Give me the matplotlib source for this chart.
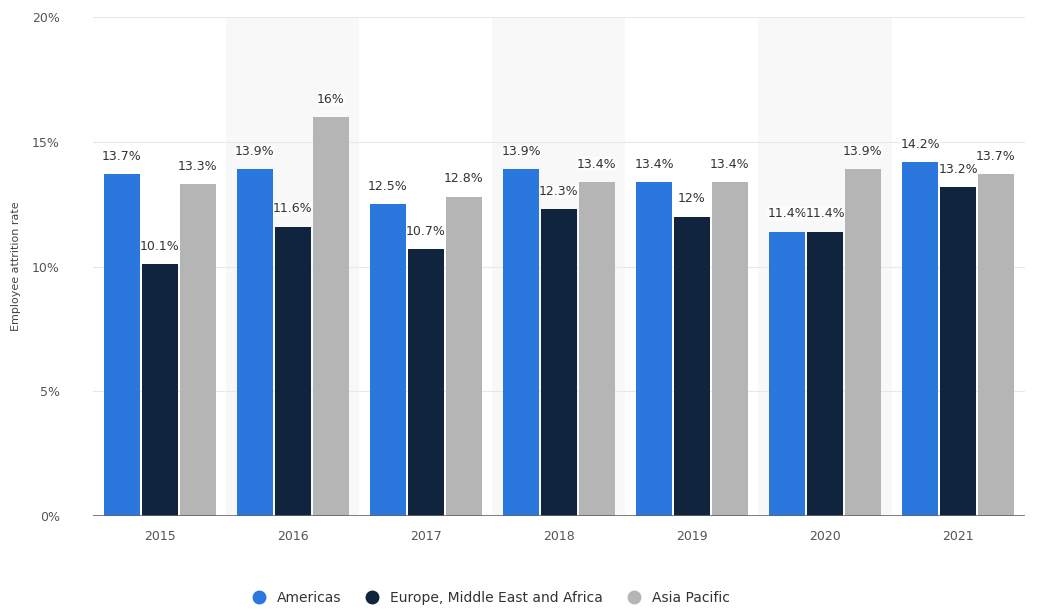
import numpy as np
import matplotlib.pyplot as plt
from matplotlib.lines import Line2D

years = ['2015', '2016', '2017', '2018', '2019', '2020', '2021']
americas = [13.7, 13.9, 12.5, 13.9, 13.4, 11.4, 14.2]
emea = [10.1, 11.6, 10.7, 12.3, 12.0, 11.4, 13.2]
apac = [13.3, 16.0, 12.8, 13.4, 13.4, 13.9, 13.7]
series_names = ['Americas', 'Europe, Middle East and Africa', 'Asia Pacific']
colors = ['#2a77dd', '#10243e', '#b5b5b5']

fig = plt.figure(figsize=(10.37, 6.10), dpi=100)
ax = fig.add_axes([0.09, 0.154, 0.898, 0.818])

x = np.arange(len(years))
width = 0.27
step = 0.285

# alternate background bands
for i in range(1, len(years), 2):
    ax.axvspan(i - 0.5, i + 0.5, color='#f8f8f8', zorder=0, lw=0)

ax.set_yticks([0, 5, 10, 15, 20])
ax.set_yticklabels(['0%', '5%', '10%', '15%', '20%'])
ax.grid(axis='y', color='#e8e8e8', lw=0.8, zorder=1)

for k, vals in enumerate([americas, emea, apac]):
    xs = x + (k - 1) * step
    ax.bar(xs, vals, width, color=colors[k], zorder=2)
    for xi, v in zip(xs, vals):
        txt = f'{v:g}%'
        ax.text(xi, v + 0.45, txt, ha='center', va='bottom', fontsize=9,
                color='#333333', zorder=3,
                bbox=dict(facecolor='white', edgecolor='none', pad=0.3, alpha=0.6))

ax.set_xlim(-0.5, len(years) - 0.5)
ax.set_ylim(0, 20)
ax.set_xticks(x)
ax.set_xticklabels(years)
ax.axhline(0, color='#666666', lw=1.2, zorder=3)

for s in ax.spines.values():
    s.set_visible(False)
ax.tick_params(axis='both', length=0, colors='#555555', labelsize=9)
ax.tick_params(axis='x', pad=10)
ax.tick_params(axis='y', pad=24)
ax.set_ylabel('Employee attrition rate', fontsize=8, color='#444444', labelpad=8)

handles = [Line2D([], [], marker='o', ls='', markersize=9, color=c) for c in colors]
fig.legend(handles, series_names, loc='lower center', ncol=3, frameon=False,
           bbox_to_anchor=(0.47, -0.012), fontsize=10, handletextpad=0.3, columnspacing=1.2,
           labelcolor='#333333')

fig.savefig('out.png', dpi=100)
